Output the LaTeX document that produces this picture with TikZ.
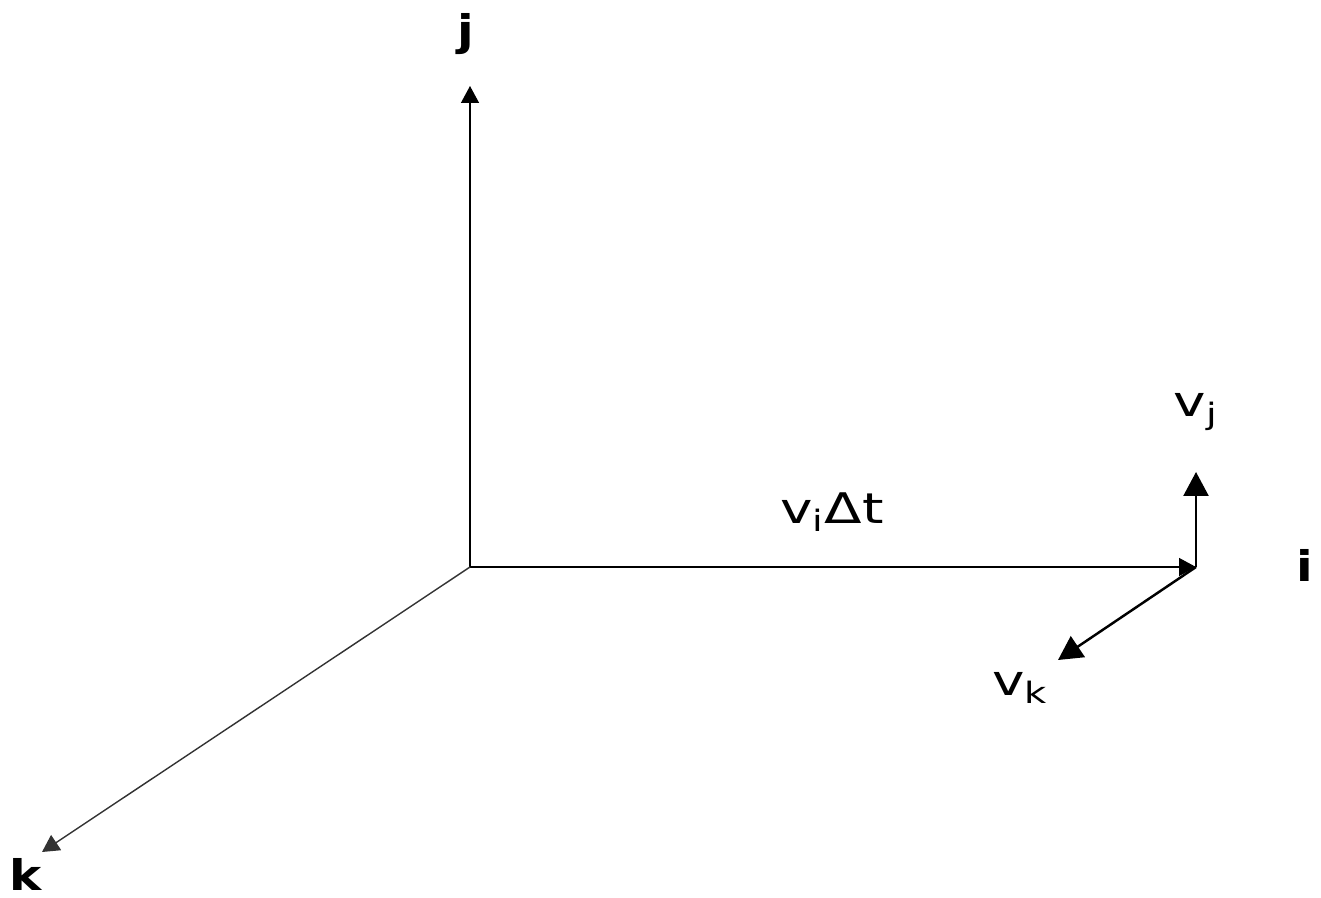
\documentclass[tikz,border=0pt]{standalone}
\usepackage{fontspec}
\setmainfont{DejaVu Sans}
\usetikzlibrary{arrows.meta}
\newcommand{\widetext}[2][1.3]{\scalebox{#1}[1]{#2}}

\begin{document}
\begin{tikzpicture}[x=0.02cm, y=-0.02cm,
	every node/.style={font=\fontsize{24}{28}\selectfont, inner sep=0pt},
	axisline/.style={line width=0.8pt, -{Triangle[length=3.4mm, width=3.6mm]}},
	velline/.style={line width=1.4pt, -{Triangle[length=4.8mm, width=5mm]}},
	axislabel/.style={font=\fontsize{24}{28}\selectfont\bfseries}]
	\useasboundingbox (0,0) rectangle (1321,898);
	% axes
	\coordinate (O) at (470,567);
	\coordinate (jend) at (470,86);
	\coordinate (P) at (1196,567);
	\coordinate (kend) at (42,852);
	\draw[axisline] (O) -- (jend);
	\draw[axisline] (O) -- (P);
	\draw[axisline, black!80] (O) -- (kend);
	\node[axislabel] (jlab) at (466,34) {\widetext[1.15]{j}};
	\node[axislabel] (ilab) at (1305,565) {\widetext[1.15]{i}};
	\node[axislabel] (klab) at (26,874) {\widetext[1.15]{k}};
	% velocity components
	\coordinate (vjend) at (1196,472);
	\coordinate (vkend) at (1058,660);
	\draw[velline] (P) -- (vjend);
	\draw[velline] (P) -- (vkend);
	\node (vjlab) at (1196,412) {\widetext{v\textsubscript{j}}};
	\node (vklab) at (1020,688) {\widetext{v\textsubscript{k}}};
	\node (vilab) at (832,512) {\widetext{v\textsubscript{i}Δt}};
\end{tikzpicture}
\end{document}
